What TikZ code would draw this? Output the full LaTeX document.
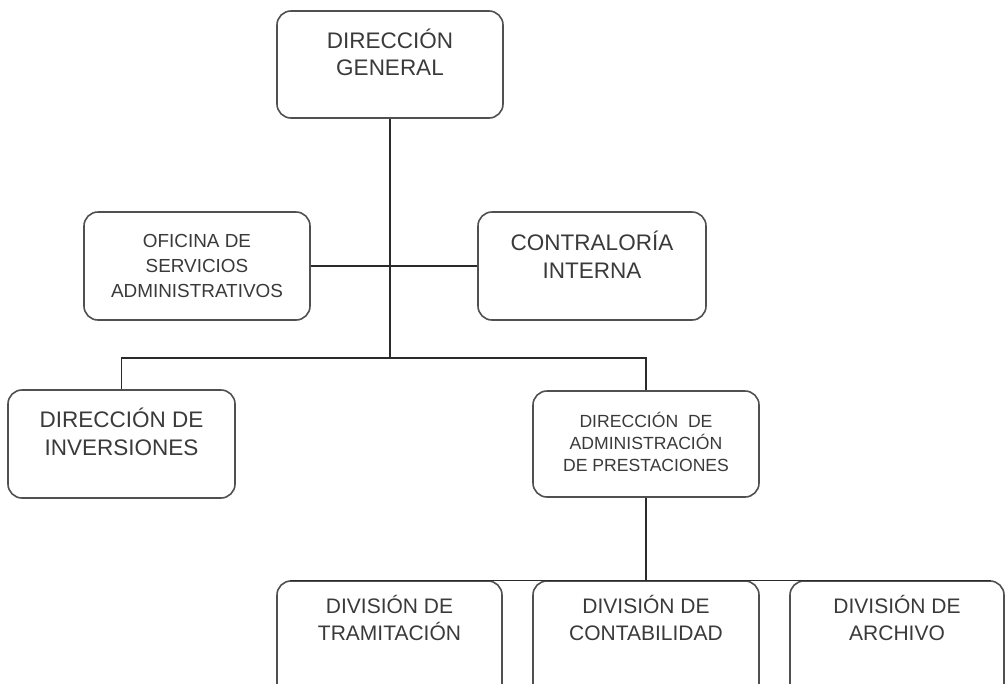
\documentclass[tikz,border=0pt]{standalone}
\usepackage{fontspec}
\setmainfont{Liberation Sans}
\definecolor{boxgray}{HTML}{505050}
\definecolor{txtgray}{HTML}{3A3A3A}
\definecolor{linegray}{HTML}{2A2A2A}
\newcommand{\bxtext}[6]{% width, height, first baseline, font size, baselineskip, text
\begin{minipage}[c][#2][t]{#1}\centering\fontsize{#4}{#5}\selectfont\rule{0pt}{#3}#6\end{minipage}}
\tikzset{
  orgbox/.style={draw=boxgray, line width=1.6pt, rounded corners=14pt, inner sep=0pt, text=txtgray, fill=white},
  conn/.style={draw=linegray, line width=1.3pt}
}
\begin{document}
\begin{tikzpicture}[x=1pt,y=-1pt]
\useasboundingbox (0,0) rectangle (1006,683);
\begin{scope}
\clip (0,0) rectangle (1006,683);
% level 1
\node[orgbox] (dg) at (390,64.5) {\bxtext{226pt}{107pt}{37pt}{22.5pt}{27pt}{DIRECCIÓN\\GENERAL}};
% staff
\node[orgbox] (osa) at (197,266) {\bxtext{226pt}{108pt}{35pt}{18.9pt}{25pt}{OFICINA DE\\SERVICIOS\\ADMINISTRATIVOS}};
\node[orgbox] (ci) at (592,266) {\bxtext{228pt}{108pt}{38pt}{22.5pt}{28pt}{CONTRALORÍA\\INTERNA}};
% level 2
\node[orgbox] (inv) at (121.5,444) {\bxtext{227pt}{108pt}{37pt}{22.5pt}{28pt}{DIRECCIÓN DE\\INVERSIONES}};
\node[orgbox] (dap) at (646,444) {\bxtext{226pt}{106pt}{36pt}{17.6pt}{22pt}{DIRECCIÓN\ \ DE\\ADMINISTRACIÓN\\DE PRESTACIONES}};
% level 3
\node[orgbox] (dt) at (389.5,646) {\bxtext{225pt}{130pt}{32pt}{21pt}{27pt}{DIVISIÓN DE\\TRAMITACIÓN}};
\node[orgbox] (dc) at (646,646) {\bxtext{226pt}{130pt}{32pt}{21pt}{27pt}{DIVISIÓN DE\\CONTABILIDAD}};
\node[orgbox] (da) at (897,646) {\bxtext{214pt}{130pt}{32pt}{21pt}{27pt}{DIVISIÓN DE\\ARCHIVO}};
% connectors
\coordinate (j) at (390,358);
\draw[conn] (dg.south) -- (j);
\draw[conn] (osa.east) -- (ci.west);
\draw[conn] (inv.north) |- (j) -| (dap.north);
\draw[conn] (dap.south) -- (dc.north);
\coordinate (bl) at ([xshift=14pt]dt.north west);
\coordinate (br) at ([xshift=-14pt]da.north east);
\draw[conn] (bl) -- (br);
\end{scope}
\end{tikzpicture}
\end{document}
